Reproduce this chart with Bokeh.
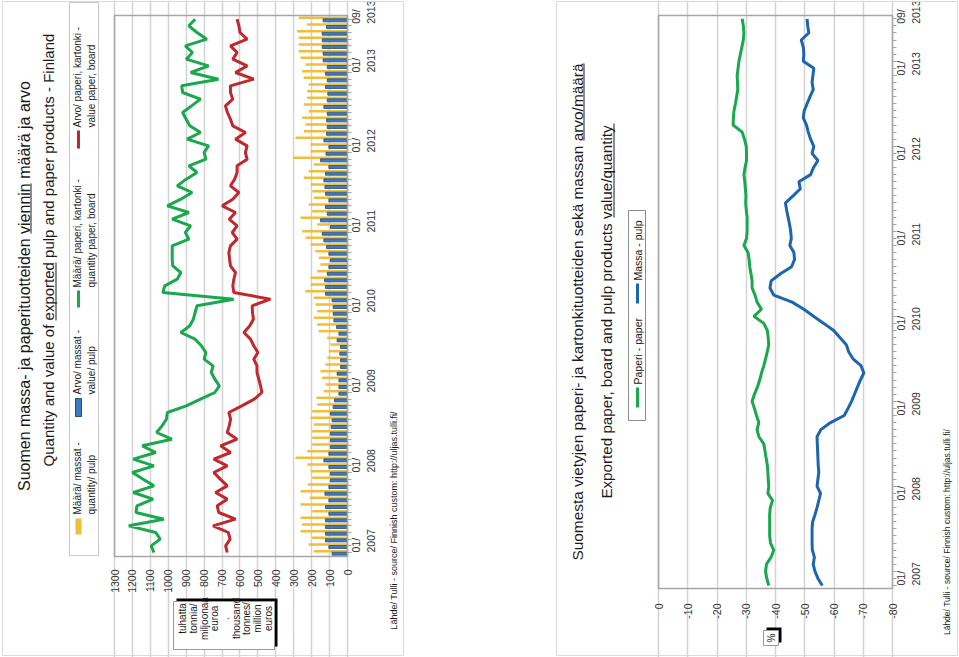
from math import pi
from bokeh.plotting import figure
from bokeh.models import (Range1d, FixedTicker, Label, BoxAnnotation, LinearAxis, Grid)
from bokeh.layouts import row
from bokeh.embed import file_html
from bokeh.resources import INLINE

FONT = "Liberation Sans"

# ---------------- data ----------------
months = list(range(81))  # 01/2007 ... 09/2013
tick_months = [0, 12, 24, 36, 48, 60, 72, 80]
tick_labels = ["01/\n2007", "01/\n2008", "01/\n2009", "01/\n2010",
               "01/\n2011", "01/\n2012", "01/\n2013", "09/\n2013"]
qty_ticks = list(range(0, 1301, 100))
pct_ticks = list(range(0, -81, -10))

# pulp quantity (thousand tonnes) - yellow bars
pulp_qty = [188, 216, 197, 262, 253, 262, 197, 262, 210, 262,
            221, 197, 206, 225, 290, 225, 197, 197, 197, 188,
            206, 197, 169, 173, 132, 123, 141, 151, 123, 113,
            104, 95, 113, 160, 169, 188, 169, 179, 188, 234,
            206, 206, 169, 151, 160, 179, 206, 234, 253, 169,
            262, 197, 216, 188, 197, 206, 244, 216, 188, 303,
            206, 206, 290, 244, 234, 253, 216, 244, 225, 225,
            216, 244, 253, 234, 262, 272, 272, 272, 281, 225,
            272]
# pulp value (million euros) - blue bars
pulp_val = [86, 104, 123, 123, 123, 123, 104, 123, 104, 126,
            104, 95, 95, 104, 132, 104, 95, 95, 95, 91,
            86, 95, 80, 73, 48, 48, 48, 58, 39, 39,
            43, 39, 58, 48, 61, 76, 80, 80, 86, 123,
            123, 128, 113, 104, 95, 104, 117, 132, 141, 95,
            151, 113, 123, 104, 123, 126, 132, 123, 104, 151,
            120, 104, 132, 117, 113, 117, 113, 132, 113, 110,
            123, 113, 123, 113, 136, 136, 141, 141, 141, 117,
            136]
# paper & board quantity (thousand tonnes) - green line
paper_qty = [1080, 1095, 1045, 1070, 1220, 1025, 1180, 1175, 1085, 1195,
             1080, 1140, 1200, 1080, 1195, 1070, 1145, 980, 1065, 1035,
             1010, 1005, 900, 820, 740, 715, 740, 760, 750, 800,
             790, 815, 850, 930, 880, 860, 850, 840, 635, 1030,
             1020, 950, 930, 975, 978, 978, 978, 885, 905, 875,
             978, 885, 1005, 930, 867, 950, 900, 840, 885, 790,
             800, 775, 895, 820, 880, 900, 920, 870, 820, 920,
             925, 720, 875, 775, 900, 865, 905, 785, 840, 885,
             850]
# paper & board value (million euros) - red line
paper_val = [671, 680, 655, 665, 750, 625, 718, 727, 671, 736,
             671, 710, 746, 671, 746, 652, 708, 616, 671, 660,
             652, 662, 590, 520, 478, 485, 495, 505, 505, 523,
             500, 523, 541, 578, 545, 525, 530, 532, 430, 634,
             640, 634, 625, 653, 658, 662, 653, 616, 643, 616,
             660, 625, 699, 640, 606, 653, 630, 616, 616, 560,
             570, 560, 625, 569, 640, 653, 670, 681, 640, 653,
             653, 523, 625, 560, 640, 616, 653, 560, 600, 606,
             616]
# value/quantity change (%) - paper
paper_pct = [-37.7, -37.0, -36.6, -36.9, -38.5, -39.4, -38.3, -38.0, -38.0, -38.0,
             -38.0, -38.2, -39.0, -37.4, -37.7, -37.5, -37.4, -37.2, -36.8, -36.4,
             -36.0, -34.3, -33.7, -34.3, -33.5, -32.8, -32.0, -32.8, -33.8, -34.6,
             -35.2, -36.0, -36.6, -37.2, -37.7, -37.5, -37.2, -36.0, -32.6, -35.2,
             -33.7, -33.0, -32.0, -32.0, -31.6, -31.2, -31.0, -30.6, -29.2, -30.1,
             -30.3, -30.3, -30.3, -30.0, -29.8, -29.9, -29.7, -29.5, -29.2, -29.6,
             -30.1, -30.1, -30.0, -29.4, -28.6, -25.5, -25.6, -25.8, -26.3, -26.7,
             -27.1, -27.0, -26.9, -27.2, -27.5, -28.0, -28.5, -29.0, -29.2, -29.0,
             -28.6]
# value/quantity change (%) - pulp
pulp_pct = [-56.0, -54.5, -53.5, -52.9, -53.3, -52.6, -52.5, -52.5, -52.5, -52.7,
            -53.5, -54.2, -54.8, -55.4, -54.2, -54.5, -54.8, -54.6, -54.5, -54.4,
            -54.3, -54.2, -55.5, -58.8, -63.5, -64.8, -66.0, -67.0, -68.0, -69.0,
            -70.2, -69.3, -66.5, -65.0, -64.2, -62.0, -59.9, -56.5, -53.0, -49.7,
            -45.7, -39.4, -38.1, -38.5, -41.7, -45.5, -46.5, -46.3, -44.9, -45.4,
            -45.2, -44.8, -44.3, -43.8, -43.4, -46.0, -48.5, -48.0, -52.0, -53.0,
            -54.5, -52.5, -53.1, -52.0, -51.2, -50.6, -49.5, -49.8, -50.8, -51.8,
            -52.9, -52.5, -52.8, -53.1, -49.5, -49.7, -49.5, -48.8, -51.4, -51.0,
            -50.8]

YELLOW = "#F0BE3C"
BLUE = "#3C7BC0"
BLUE_EDGE = "#1F4E79"
GREEN = "#19A84B"
RED = "#C1272D"
LBLUE = "#1C66B0"
GRID = "#d3d3d3"
FRAME = "#a6a6a6"
TXT = "#1a1a1a"
W1, W2, H = 480, 479, 657


class Panel:
    """Maps page pixels of one figure to its data space (frame == whole canvas)."""

    def __init__(self, off, w, px0, px1, v0, v1, py0, py1, m0, m1):
        self.off, self.w = off, w
        self.px0, self.px1, self.v0, self.v1 = px0, px1, v0, v1
        self.py0, self.py1, self.m0, self.m1 = py0, py1, m0, m1

    def x(self, cx):
        return self.v0 + (cx - self.px0) * (self.v1 - self.v0) / (self.px1 - self.px0)

    def y(self, cy):
        return self.m0 + (self.py1 - cy) * (self.m1 - self.m0) / (self.py1 - self.py0)

    def ranges(self):
        return (Range1d(self.x(self.off), self.x(self.off + self.w)),
                Range1d(self.y(H), self.y(0)))


# left plot area: x 114..347 <-> 1300..0 ; y 556..15 <-> month -0.6..80.55
PL = Panel(0, W1, 114, 347, 1300, 0, 15, 556, -0.6, 80.55)
# right plot area: x 658..892 <-> 0..-80 ; y 588..15 <-> month -0.42..80.46
PR = Panel(W1, W2, 658, 892, 0, -80, 15, 588, -0.42, 80.46)


def make_fig(P, w, vticks, vstand):
    xr, yr = P.ranges()
    p = figure(width=w, height=H, x_range=xr, y_range=yr, output_backend="svg",
               toolbar_location=None, x_axis_type=None, y_axis_type=None,
               min_border=0, min_border_left=0, min_border_right=0,
               min_border_top=0, min_border_bottom=0)
    p.title.visible = False
    p.outline_line_color = None
    p.background_fill_color = "white"
    p.border_fill_color = "white"
    try:
        p.frame_align = False
    except Exception:
        pass
    mlo, mhi = P.m0, P.m1
    p.add_layout(Grid(dimension=0, ticker=FixedTicker(ticks=vticks), bounds=(mlo, mhi),
                      grid_line_color=GRID, grid_line_width=1.5))
    xax = LinearAxis(ticker=FixedTicker(ticks=vticks), fixed_location=mlo,
                     major_label_overrides={t: str(t) for t in vticks},
                     major_label_orientation=pi / 2, axis_line_color=None,
                     major_tick_line_color=None, minor_tick_line_color=None,
                     major_label_standoff=vstand, major_label_text_font=FONT,
                     major_label_text_font_size="10.5px", major_label_text_color="#333333")
    p.add_layout(xax, "below")
    yax = LinearAxis(ticker=FixedTicker(ticks=tick_months, minor_ticks=months),
                     fixed_location=P.v1, bounds=(mlo, mhi),
                     major_label_overrides=dict(zip(tick_months, tick_labels)),
                     major_label_orientation=pi / 2, axis_line_color=FRAME,
                     major_tick_line_color=FRAME, minor_tick_line_color=FRAME,
                     major_tick_out=4, major_tick_in=0, minor_tick_out=4, minor_tick_in=0,
                     major_label_standoff=12, major_label_text_font=FONT,
                     major_label_text_font_size="10.5px", major_label_text_color="#333333")
    p.add_layout(yax, "right")
    return p


p1 = make_fig(PL, W1, qty_ticks, 7)
p2 = make_fig(PR, W2, pct_ticks, 9)

# bars & lines, left
p1.hbar(y=[m + 0.2 for m in months], left=0, right=pulp_qty, height=0.38,
        fill_color=YELLOW, line_color=None)
p1.hbar(y=[m - 0.18 for m in months], left=0, right=pulp_val, height=0.45,
        fill_color=BLUE, line_color=BLUE_EDGE, line_width=0.8)
p1.line(x=paper_qty, y=months, line_color=GREEN, line_width=3)
p1.line(x=paper_val, y=months, line_color=RED, line_width=3)

# lines, right
p2.line(x=paper_pct, y=months, line_color=GREEN, line_width=3)
p2.line(x=pulp_pct, y=months, line_color=LBLUE, line_width=3)


# ---------------- decorations ----------------
def box(p, P, x0, y0, x1, y1, fill=None, line=None, lw=1):
    a, b = P.x(x0), P.x(x1)
    c, d = P.y(y0), P.y(y1)
    p.add_layout(BoxAnnotation(
        left=min(a, b), right=max(a, b), bottom=min(c, d), top=max(c, d),
        fill_color=fill if fill else "white", fill_alpha=1.0 if fill else 0.0,
        line_color=line if line else "white", line_alpha=1.0 if line else 0.0,
        line_width=lw))


def text(p, P, cx, cy, s, size, align="center", color=TXT, lh=1.2):
    p.add_layout(Label(x=P.x(cx), y=P.y(cy), text=s, angle=pi / 2, text_align=align,
                       text_baseline="middle", text_font=FONT, text_line_height=lh,
                       text_font_size=size, text_color=color))


for p, P in ((p1, PL), (p2, PR)):
    box(p, P, P.px0, P.py0, P.px1, P.py1, line=FRAME, lw=1.5)

# ----- left -----
box(p1, PL, 2, 1, 403, 655, line="#d9d9d9")
text(p1, PL, 24, 285.5, "Suomen massa- ja paperituotteiden viennin määrä ja arvo", "16px")
box(p1, PL, 30, 183, 31, 233, fill=TXT)
text(p1, PL, 48, 249.5, "Quantity and value of exported pulp and paper products - Finland", "15px")
box(p1, PL, 55, 262, 56, 320, fill=TXT)

box(p1, PL, 69, 2, 98, 555, line="#c8c8c8")
box(p1, PL, 75, 518, 81, 534, fill=YELLOW)
text(p1, PL, 84, 514, "Määrä/ massat -\nquantity/ pulp", "10px", align="left")
box(p1, PL, 75, 398, 81, 416, fill=BLUE, line=BLUE_EDGE)
text(p1, PL, 84, 394, "Arvo/ massat -\nvalue/ pulp", "10px", align="left")
box(p1, PL, 76.5, 290, 79.5, 307, fill=GREEN)
text(p1, PL, 84, 287, "Määrä/ paperi, kartonki -\nquantity paper, board", "10px", align="left")
box(p1, PL, 76.5, 130, 79.5, 148, fill=RED)
text(p1, PL, 84, 127, "Arvo/ paperi, kartonki -\nvalue paper, board", "10px", align="left")

box(p1, PL, 176, 598, 277, 646, fill="black")
box(p1, PL, 173, 601, 274, 649, fill="white", line="#9a9a9a")
text(p1, PL, 225, 618, "tuhatta\ntonnia/\nmiljoonaa\neuroa\n.\nthousand\ntonnes/\nmillion\neuros",
     "10px", lh=0.97)
text(p1, PL, 393, 520, "Lähde/ Tulli - source/ Finnish custom: http://uljas.tulli.fi/", "9px")

# ----- right -----
box(p2, PR, 556, 1, 957, 655, line="#d9d9d9")
text(p2, PR, 577, 311.5,
     "Suomesta vietyjen paperi- ja kartonkituotteiden sekä massan arvo/määrä", "15.4px")
box(p2, PR, 583, 63, 584, 140, fill=TXT)
text(p2, PR, 606, 311.5, "Exported paper, board and pulp products value/quantity", "15.2px")
box(p2, PR, 613, 123, 614, 217, fill=TXT)

box(p2, PR, 628, 210, 645, 420, line="#8c8c8c")
box(p2, PR, 635.5, 387, 638.5, 407, fill=GREEN)
text(p2, PR, 637, 384, "Paperi - paper", "10.5px", align="left")
box(p2, PR, 635.5, 283, 638.5, 303, fill=LBLUE)
text(p2, PR, 637, 280, "Massa - pulp", "10.5px", align="left")

box(p2, PR, 766, 627, 781, 642, fill="black")
box(p2, PR, 763, 630, 778, 645, fill="white", line="#9a9a9a")
text(p2, PR, 770.5, 637.5, "%", "10px")
text(p2, PR, 946, 531.5, "Lähde/ Tulli - source/ Finnish custom: http://uljas.tulli.fi/", "8.5px")

layout = row(p1, p2)
open("out.html", "w").write(file_html(layout, INLINE))
